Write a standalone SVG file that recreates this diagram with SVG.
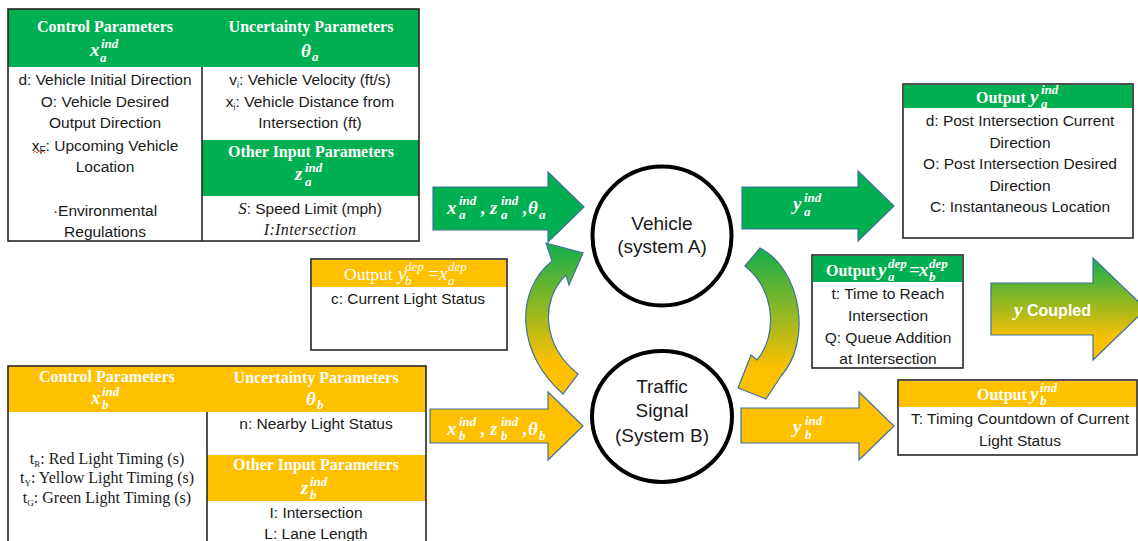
<svg xmlns="http://www.w3.org/2000/svg" width="1138" height="541" viewBox="0 0 1138 541">
  <defs>
    <!-- green-to-amber blend used by the coupling arrows -->
    <linearGradient id="blend" x1="0" y1="0" x2="0" y2="1">
      <stop offset="0" stop-color="#12AE4B"/>
      <stop offset="0.8" stop-color="#FFC000"/>
      <stop offset="1" stop-color="#FFC000"/>
    </linearGradient>
    <style>
      .green { fill: #00B050; }
      .amber { fill: #FFC000; }
      .frame { fill: none; stroke: #262626; stroke-width: 1.6; }
      .rule { stroke: #262626; stroke-width: 1.6; }
      .box { fill: #fff; stroke: #262626; stroke-width: 1.6; }
      .body { font-family: "Liberation Sans", Arial, sans-serif; font-size: 15.5px; fill: #1a1a1a; text-anchor: middle; }
      .serif { font-family: "Liberation Serif", "Times New Roman", serif; font-size: 16px; fill: #1a1a1a; text-anchor: middle; }
      .head { font-family: "Liberation Serif", "Times New Roman", serif; font-size: 16px; font-weight: bold; fill: #fff; text-anchor: middle; }
      .headl { font-family: "Liberation Serif", "Times New Roman", serif; font-size: 16px; font-weight: bold; fill: #fff; }
      .outl { font-family: "Liberation Serif", "Times New Roman", serif; font-size: 17.5px; fill: #fff; }
      .m { font-family: "Liberation Serif", "Times New Roman", serif; font-style: italic; font-weight: bold; font-size: 19px; fill: #fff; }
      .ms { font-family: "Liberation Serif", "Times New Roman", serif; font-style: italic; font-weight: bold; font-size: 13px; fill: #fff; }
      .mr { font-family: "Liberation Serif", "Times New Roman", serif; font-style: italic; font-size: 19px; fill: #fff; }
      .mrs { font-family: "Liberation Serif", "Times New Roman", serif; font-style: italic; font-size: 13px; fill: #fff; }
      .node { fill: #fff; stroke: #000; stroke-width: 4; }
      .label { font-family: "Liberation Sans", Arial, sans-serif; font-size: 19px; fill: #1a1a1a; text-anchor: middle; }
      .arrow { stroke: #41719C; stroke-width: 1.2; stroke-linejoin: miter; }
    </style>
  </defs>

  <rect width="1138" height="541" fill="#fff"/>

  <!-- Vehicle (system A) parameter table -->
  <g id="vehicle-params">
    <rect x="8" y="9" width="411" height="58" class="green"/>
    <rect x="202" y="140" width="217" height="56" class="green"/>
    <line x1="202" y1="67" x2="202" y2="241" class="rule"/>
    <rect x="8" y="9" width="411" height="232" class="frame"/>

    <text x="105" y="32" class="head">Control Parameters</text>
    <text x="90" y="56" class="m">x</text>
    <text x="101" y="48" class="ms">ind</text>
    <text x="100" y="62" class="ms">a</text>

    <text x="311" y="32" class="head">Uncertainty Parameters</text>
    <text x="301" y="57" class="m">θ</text>
    <text x="312" y="61" class="ms">a</text>

    <text x="105" y="85" class="body">d: Vehicle Initial Direction</text>
    <text x="105" y="107" class="body">O: Vehicle Desired</text>
    <text x="105" y="128" class="body">Output Direction</text>
    <text x="105" y="151" class="body">x<tspan font-size="10" dy="3">F</tspan><tspan dy="-3">: Upcoming Vehicle</tspan></text>
    <path d="M33,153 l2,-2 l2,2 l2,-2 l2,2 l2,-2 l2,2" fill="none" stroke="#E03030" stroke-width="0.8"/>
    <text x="105" y="172" class="body">Location</text>
    <text x="105" y="216" class="body">·Environmental</text>
    <text x="105" y="237" class="body">Regulations</text>

    <text x="310" y="85" class="body">v<tspan font-size="9" dy="3">i</tspan><tspan dy="-3">: Vehicle Velocity (ft/s)</tspan></text>
    <text x="310" y="107" class="body">x<tspan font-size="9" dy="3">i</tspan><tspan dy="-3">: Vehicle Distance from</tspan></text>
    <text x="310" y="128" class="body">Intersection (ft)</text>

    <text x="311" y="157" class="head">Other Input Parameters</text>
    <text x="295" y="180" class="m">z</text>
    <text x="305" y="172" class="ms">ind</text>
    <text x="305" y="186" class="ms">a</text>

    <text x="310" y="214" class="body"><tspan font-family="Liberation Serif, serif" font-style="italic" font-size="17">S</tspan>: Speed Limit (mph)</text>
    <text x="310" y="235" class="serif" font-style="italic" font-size="17.5" letter-spacing="0.4">I:Intersection</text>
  </g>

  <!-- Traffic signal (system B) parameter table -->
  <g id="signal-params">
    <rect x="8" y="366" width="418" height="46" class="amber"/>
    <rect x="207" y="455" width="219" height="46" class="amber"/>
    <line x1="207" y1="412" x2="207" y2="545" class="rule"/>
    <rect x="8" y="366" width="418" height="185" class="frame"/>

    <text x="107" y="382" class="head">Control Parameters</text>
    <text x="91" y="404" class="m">x</text>
    <text x="102" y="396" class="ms">ind</text>
    <text x="102" y="409" class="ms">b</text>

    <text x="316" y="383" class="head">Uncertainty Parameters</text>
    <text x="306" y="405" class="m">θ</text>
    <text x="317" y="409" class="ms">b</text>

    <text x="316" y="429" class="body">n: Nearby Light Status</text>

    <text x="316" y="470" class="head">Other Input Parameters</text>
    <text x="301" y="494" class="m">z</text>
    <text x="310" y="486" class="ms">ind</text>
    <text x="310" y="499" class="ms">b</text>

    <text x="316" y="518" class="body">I: Intersection</text>
    <text x="316" y="539" class="body">L: Lane Length</text>

    <text x="107" y="464" class="serif">t<tspan font-size="9" dy="3">R</tspan><tspan dy="-3">: Red Light Timing (s)</tspan></text>
    <text x="107" y="483" class="serif">t<tspan font-size="9" dy="3">Y</tspan><tspan dy="-3">: Yellow Light Timing (s)</tspan></text>
    <text x="107" y="503" class="serif">t<tspan font-size="9" dy="3">G</tspan><tspan dy="-3">: Green Light Timing (s)</tspan></text>
  </g>

  <!-- System nodes -->
  <g id="vehicle">
    <circle cx="662" cy="236" r="69.5" class="node"/>
    <text x="662" y="230" class="label">Vehicle</text>
    <text x="662" y="253" class="label">(system A)</text>
  </g>
  <g id="traffic-signal">
    <ellipse cx="662" cy="416.5" rx="70" ry="65.5" class="node"/>
    <text x="662" y="393" class="label">Traffic</text>
    <text x="662" y="417" class="label">Signal</text>
    <text x="662" y="442" class="label">(System B)</text>
  </g>

  <!-- Output boxes -->
  <g id="output-a-ind">
    <rect x="903" y="84" width="230" height="154" class="box"/>
    <rect x="904" y="85" width="228" height="23" class="green"/>
    <text x="976" y="103" class="headl">Output</text>
    <text x="1030" y="103" class="m">y</text>
    <text x="1041" y="94" class="ms">ind</text>
    <text x="1041" y="108" class="ms">a</text>
    <text x="1020" y="126" class="body">d: Post Intersection Current</text>
    <text x="1020" y="148" class="body">Direction</text>
    <text x="1020" y="169" class="body">O: Post Intersection Desired</text>
    <text x="1020" y="191" class="body">Direction</text>
    <text x="1020" y="212" class="body">C: Instantaneous Location</text>
  </g>

  <g id="output-a-dep">
    <rect x="812" y="255" width="151" height="113" class="box"/>
    <rect x="813" y="256" width="149" height="26" class="green"/>
    <text x="826" y="276" class="headl">Output</text>
    <text x="878" y="276" class="m">y</text>
    <text x="888" y="268" class="ms">dep</text>
    <text x="888" y="281" class="ms">a</text>
    <text x="909" y="276" class="m">=</text>
    <text x="919" y="276" class="m">x</text>
    <text x="929" y="268" class="ms">dep</text>
    <text x="929" y="281" class="ms">b</text>
    <text x="888" y="299" class="body">t: Time to Reach</text>
    <text x="888" y="321" class="body">Intersection</text>
    <text x="888" y="343" class="body">Q: Queue Addition</text>
    <text x="888" y="364" class="body">at Intersection</text>
  </g>

  <g id="output-b-dep">
    <rect x="311" y="259" width="196" height="91" class="box"/>
    <rect x="312" y="260" width="194" height="27" class="amber"/>
    <text x="344" y="280" class="outl">Output</text>
    <text x="398" y="280" class="mr">y</text>
    <text x="405" y="271" class="mrs">dep</text>
    <text x="405" y="285" class="mrs">b</text>
    <text x="427" y="280" class="mr">=</text>
    <text x="439" y="280" class="mr">x</text>
    <text x="448" y="271" class="mrs">dep</text>
    <text x="448" y="285" class="mrs">a</text>
    <text x="408" y="304" class="body">c: Current Light Status</text>
  </g>

  <g id="output-b-ind">
    <rect x="898" y="380" width="239" height="75" class="box"/>
    <rect x="899" y="381" width="237" height="26" class="amber"/>
    <text x="977" y="400" class="headl">Output</text>
    <text x="1030" y="400" class="m">y</text>
    <text x="1040" y="392" class="ms">ind</text>
    <text x="1040" y="405" class="ms">b</text>
    <text x="1020" y="424" class="body">T: Timing Countdown of Current</text>
    <text x="1020" y="446" class="body">Light Status</text>
  </g>

  <!-- Connectors: block arrows and the coupling loop -->
  <g id="connectors">
    <polygon class="arrow green" points="433,187 548,187 548,172 584,207 548,242 548,230 433,230"/>
    <polygon class="arrow green" points="742,187 858,187 858,171 894,206 858,241 858,229 742,229"/>
    <polygon class="arrow amber" points="430,409 548,409 548,392 583,426 548,460 548,443 430,443"/>
    <polygon class="arrow amber" points="741,408 859,408 859,392 894,426 859,460 859,443 741,443"/>
    <polygon class="arrow" fill="url(#blend)" points="991,283 1093,283 1093,258 1146,309 1093,360 1093,335 991,335"/>

    <!-- B to A (left) -->
    <path class="arrow" fill="url(#blend)" d="M563,394 C518,355 513,293 552,261 L546,243 L583,253 L569,285 L566,275 C540,300 542,345 578,374 Z"/>
    <!-- A to B (right) -->
    <path class="arrow" fill="url(#blend)" d="M745,266 L760,248 C802,270 812,342 781,376 L766,399 L738,388 L751,355 L757,360 C778,335 775,290 745,266 Z"/>

    <!-- arrow labels -->
    <g id="label-in-a">
      <text x="447" y="214" class="m">x</text>
      <text x="459" y="205" class="ms">ind</text>
      <text x="459" y="219" class="ms">a</text>
      <text x="481" y="214" class="m">,</text>
      <text x="490" y="214" class="m">z</text>
      <text x="501" y="205" class="ms">ind</text>
      <text x="501" y="219" class="ms">a</text>
      <text x="523" y="214" class="m">,</text>
      <text x="528" y="214" class="m">θ</text>
      <text x="539" y="219" class="ms">a</text>
    </g>
    <g id="label-in-b">
      <text x="447" y="435" class="m">x</text>
      <text x="459" y="426" class="ms">ind</text>
      <text x="459" y="440" class="ms">b</text>
      <text x="481" y="435" class="m">,</text>
      <text x="490" y="435" class="m">z</text>
      <text x="501" y="426" class="ms">ind</text>
      <text x="501" y="440" class="ms">b</text>
      <text x="523" y="435" class="m">,</text>
      <text x="528" y="435" class="m">θ</text>
      <text x="539" y="440" class="ms">b</text>
    </g>
    <g id="label-out-a">
      <text x="793" y="210" class="m">y</text>
      <text x="804" y="202" class="ms">ind</text>
      <text x="804" y="216" class="ms">a</text>
    </g>
    <g id="label-out-b">
      <text x="793" y="433" class="m">y</text>
      <text x="805" y="425" class="ms">ind</text>
      <text x="805" y="439" class="ms">b</text>
    </g>
    <text x="1014" y="316" class="m">y</text>
    <text x="1027" y="316" font-family="Liberation Sans, Arial, sans-serif" font-weight="bold" font-size="16" fill="#fff">Coupled</text>
  </g>
</svg>
